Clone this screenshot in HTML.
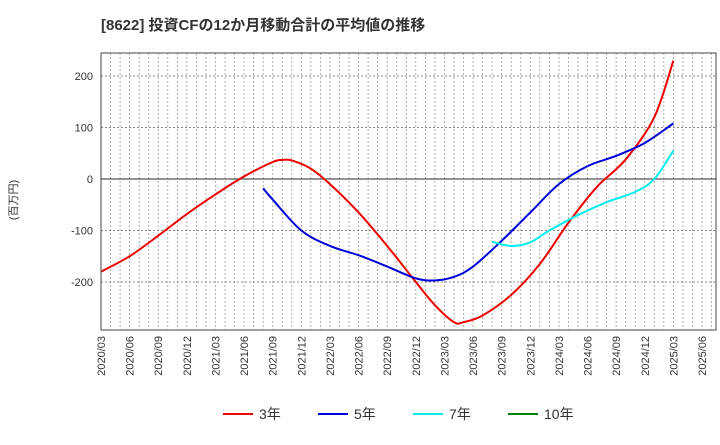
<!DOCTYPE html>
<html><head><meta charset="utf-8"><style>
body{margin:0;background:#fff;font-family:"Liberation Sans","Noto Sans CJK JP",sans-serif;}
</style></head><body>
<svg id="c" width="720" height="440" xmlns="http://www.w3.org/2000/svg">
<text x="101" y="30" font-size="15" font-weight="bold" fill="#333">[8622]  投資CFの12か月移動合計の平均値の推移</text>
<text transform="translate(17,200) rotate(-90)" font-size="11" fill="#333" text-anchor="middle">(百万円)</text>
<g id="grid"></g><g id="series"></g><g id="axes"></g>
<g id="legend"></g>
</svg>
<script>
const months=["2020/03","2020/06","2020/09","2020/12","2021/03","2021/06","2021/09","2021/12","2022/03","2022/06","2022/09","2022/12","2023/03","2023/06","2023/09","2023/12","2024/03","2024/06","2024/09","2024/12","2025/03","2025/06"];
const yTicks=[200,100,0,-100,-200];
// month index from 2020/03
const s3x=[0,3,6,9,12,15,18,19,20,22,24,27,30,33,35,37,38,40,43,46,49,52,55,58,60];
const s3y=[-180,-150,-110,-68,-30,5,33,37,36,20,-10,-65,-130,-200,-245,-278,-278,-265,-225,-165,-85,-15,38,120,230];
const s5x=[17,18,21,24,27,30,33,35,37,39,42,45,48,51,54,57,60];
const s5y=[-18,-40,-100,-130,-148,-170,-193,-197,-190,-170,-120,-65,-10,25,45,70,108];
const s7x=[41,43,45,47,50,53,56,58,60];
const s7y=[-122,-130,-123,-100,-70,-45,-25,0,55];
const L=101,R=716,T=53,B=330,x0=101,mw=(702-101)/63;
const X=m=>x0+m*mw, Y=v=>179-v*0.515;
const NS="http://www.w3.org/2000/svg";
function mk(t,a,p){const e=document.createElementNS(NS,t);for(const k in a)e.setAttribute(k,a[k]);p.appendChild(e);return e;}
const g=document.getElementById('grid'),ax=document.getElementById('axes'),se=document.getElementById('series'),lg=document.getElementById('legend');
for(let m=1;m<=66;m++){const x=X(m);if(x>=R)break;const l=mk('line',{x1:x,x2:x,y1:T,y2:B,stroke:'#999','stroke-dasharray':'2,2','stroke-width':0.8},g);

}
yTicks.forEach(v=>{const y=Y(v);const l=mk('line',{x1:L,x2:R,y1:y,y2:y,stroke:v===0?'#555':'#888','stroke-dasharray':v===0?'':'2,2','stroke-width':v===0?1.2:0.9},g);


const t=mk('text',{x:L-8,y:y+4,'text-anchor':'end','font-size':11,fill:'#333'},ax);t.textContent=v;

});
const fr=mk('rect',{x:L,y:T,width:R-L,height:B-T,fill:'none',stroke:'#444','stroke-width':1},ax);


months.forEach((m,i)=>{const x=X(i*3);const t=mk('text',{transform:`translate(${x+4},${B+6}) rotate(-90)`,'text-anchor':'end','font-size':11,fill:'#333'},ax);t.textContent=m;

});
function path(xs,ys){const p=xs.map((m,i)=>[X(m),Y(ys[i])]);let d=`M${p[0][0]},${p[0][1]}`;
for(let i=0;i<p.length-1;i++){const a=p[Math.max(i-1,0)],b=p[i],c=p[i+1],e=p[Math.min(i+2,p.length-1)];
d+=` C${b[0]+(c[0]-a[0])/6},${b[1]+(c[1]-a[1])/6} ${c[0]-(e[0]-b[0])/6},${c[1]-(e[1]-b[1])/6} ${c[0]},${c[1]}`;}return d;}
[[s3x,s3y,'#ee0000','line-3y'],[s5x,s5y,'#0000dd','line-5y'],[s7x,s7y,'#00eeee','line-7y']].forEach(s=>{
const p=mk('path',{d:path(s[0],s[1]),fill:'none',stroke:s[2],'stroke-width':2},se);

});
[['3年','#ee0000',223],['5年','#0000dd',318],['7年','#00eeee',413],['10年','#008000',508]].forEach(l=>{
const gg=mk('g',{},lg);


mk('line',{x1:l[2],x2:l[2]+30,y1:414,y2:414,stroke:l[1],'stroke-width':2},gg);
const t=mk('text',{x:l[2]+36,y:419,'font-size':14,fill:'#333'},gg);t.textContent=l[0];});
</script>
</body></html>
